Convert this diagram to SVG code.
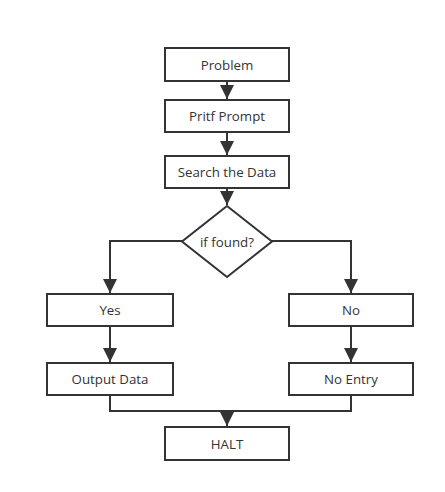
<svg xmlns="http://www.w3.org/2000/svg" width="445" height="492" viewBox="0 0 445 492">
<defs>
<style>
.box{fill:#fff;stroke:#333;stroke-width:2}
.lbl{font-family:"Open Sans","Noto Sans","DejaVu Sans",sans-serif;font-size:13.3px;fill:#333;text-anchor:middle;dominant-baseline:central}
.edge{fill:none;stroke:#333;stroke-width:2}
</style>
<marker id="arr" markerUnits="userSpaceOnUse" markerWidth="14" markerHeight="16" viewBox="0 0 14 16" refX="14" refY="8" orient="auto">
<path d="M0,1 L14,8 L0,15 Z" fill="#333"/>
</marker>
</defs>
<rect width="445" height="492" fill="#fff"/>
<g id="connectors">
<path class="edge" d="M227,81 V99" marker-end="url(#arr)"/>
<path class="edge" d="M227,132 V155" marker-end="url(#arr)"/>
<path class="edge" d="M227,188 V205" marker-end="url(#arr)"/>
<path class="edge" d="M182,241 H110 V293" marker-end="url(#arr)"/>
<path class="edge" d="M272,241 H351 V293" marker-end="url(#arr)"/>
<path class="edge" d="M110,326 V362" marker-end="url(#arr)"/>
<path class="edge" d="M351,326 V362" marker-end="url(#arr)"/>
<path class="edge" d="M110,395 V411 H351 V395"/>
<path class="edge" d="M227,411 V426" marker-end="url(#arr)"/>
</g>
<g id="problem"><rect class="box" x="165" y="48" width="124" height="33"/><text class="lbl" x="227" y="64.5">Problem</text></g>
<g id="prompt"><rect class="box" x="165" y="100" width="124" height="32"/><text class="lbl" x="227" y="116">Pritf Prompt</text></g>
<g id="search"><rect class="box" x="165" y="156" width="124" height="32"/><text class="lbl" x="227" y="172">Search the Data</text></g>
<g id="decision"><polygon class="box" points="227,206 272,241.5 227,277 182,241.5"/><text class="lbl" x="227" y="241.5">if found?</text></g>
<g id="yes"><rect class="box" x="47" y="294" width="126" height="32"/><text class="lbl" x="110" y="310">Yes</text></g>
<g id="no"><rect class="box" x="289" y="294" width="124" height="32"/><text class="lbl" x="351" y="310">No</text></g>
<g id="output"><rect class="box" x="47" y="363" width="126" height="32"/><text class="lbl" x="110" y="379">Output Data</text></g>
<g id="noentry"><rect class="box" x="289" y="363" width="124" height="32"/><text class="lbl" x="351" y="379">No Entry</text></g>
<g id="halt"><rect class="box" x="165" y="427" width="124" height="33"/><text class="lbl" x="227" y="443.5">HALT</text></g>
</svg>
